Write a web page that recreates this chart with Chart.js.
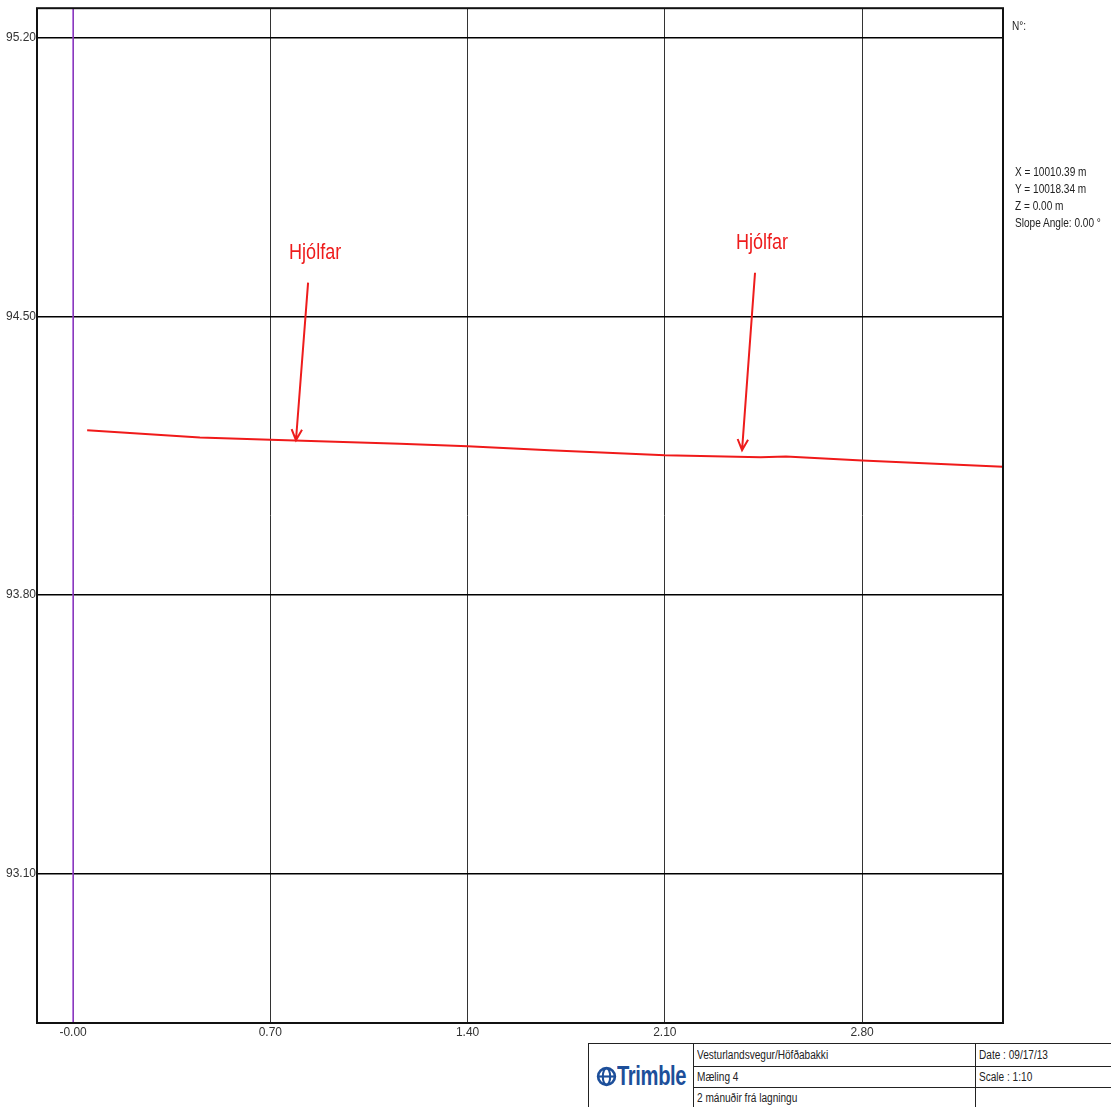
<!DOCTYPE html>
<html>
<head>
<meta charset="utf-8">
<title>Mæling 4</title>
<script src="https://cdn.jsdelivr.net/npm/chart.js@4.4.1/dist/chart.umd.min.js"></script>
<style>
body { margin: 0; background: #fff; }
#wrap { position: relative; width: 1111px; height: 1107px; overflow: hidden; }
.narrow { font-family: "Liberation Sans", Arial, sans-serif; color: #222; }
.sq { display: inline-block; transform: scaleX(0.84); transform-origin: left center; white-space: nowrap; }
#no { position: absolute; left: 1012px; top: 19px; font-size: 12px; }
#info { position: absolute; left: 1015px; top: 164px; font-size: 12px; line-height: 17px; white-space: nowrap; }
#box { position: absolute; left: 588px; top: 1043px; border-collapse: collapse; table-layout: fixed; width: 526px; font-size: 12px; background: #fff; }
#box td { border: 1px solid #222; padding: 0 3px; white-space: nowrap; overflow: hidden; }
#logo { text-align: center; font-weight: bold; font-size: 28px; color: #1d4f9a; padding: 0 !important; }
</style>
</head>
<body>
<div id="wrap">
	<canvas id="profileChart"></canvas>
	<div id="no" class="narrow"><span class="sq">N°:</span></div>
	<div id="info" class="narrow">
		<span class="sq">X = 10010.39 m</span><br>
		<span class="sq">Y = 10018.34 m</span><br>
		<span class="sq">Z = 0.00 m</span><br>
		<span class="sq">Slope Angle: 0.00 °</span>
	</div>
	<table id="box" class="narrow">
		<colgroup><col style="width:105px"><col style="width:282px"><col style="width:139px"></colgroup>
		<tr style="height:23px">
			<td id="logo" rowspan="3">
				<svg width="21" height="21" viewBox="0 0 20 20" style="vertical-align:-2px">
					<circle cx="10" cy="10" r="8" fill="none" stroke="#1d4f9a" stroke-width="2.5"/>
					<ellipse cx="10" cy="10" rx="3.5" ry="8" fill="none" stroke="#1d4f9a" stroke-width="2"/>
					<line x1="2" y1="10" x2="18" y2="10" stroke="#1d4f9a" stroke-width="2"/>
				</svg><span class="sq" style="transform:scaleX(0.72);width:70px;letter-spacing:-0.5px">Trimble</span>
			</td>
			<td><span class="sq">Vesturlandsvegur/Höfðabakki</span></td>
			<td><span class="sq">Date : 09/17/13</span></td>
		</tr>
		<tr style="height:21px">
			<td><span class="sq">Mæling 4</span></td>
			<td><span class="sq">Scale : 1:10</span></td>
		</tr>
		<tr style="height:20px">
			<td><span class="sq">2 mánuðir frá lagningu</span></td>
			<td></td>
		</tr>
	</table>
</div>
<script>
// profile (offset m, elevation m)
var offsets = [0.05, 0.45, 0.70, 1.16, 1.40, 1.69, 2.10, 2.44, 2.53, 2.80, 3.30];
var elevations = [94.214, 94.196, 94.190, 94.180, 94.174, 94.164, 94.151, 94.146, 94.148, 94.138, 94.122];

var xTicks = [0, 0.70, 1.40, 2.10, 2.80];
var yTicks = [93.10, 93.80, 94.50, 95.20];
var xMin = -0.128, xMax = 3.30;
var yMin = 92.724, yMax = 95.275;

// rut markers: label, label pos, arrow start, arrow tip
var noteText = ['Hjólfar', 'Hjólfar'];
var noteX = [0.859, 2.445];
var noteY = [94.661, 94.686];
var arrowFromX = [0.834, 2.420];
var arrowFromY = [94.585, 94.610];
var arrowToX = [0.791, 2.374];
var arrowToY = [94.189, 94.164];

var FONT = '"Liberation Sans", Arial, sans-serif';

var profile = [];
for (var i = 0; i < offsets.length; i++) {
	profile.push({ x: offsets[i], y: elevations[i] });
}

var framePlugin = {
	id: 'frame',
	afterDatasetsDraw: function (chart) {
		var ctx = chart.ctx;
		var a = chart.chartArea;
		var xs = chart.scales.x, ys = chart.scales.y;
		ctx.save();
		ctx.strokeStyle = '#111';
		ctx.lineWidth = 2;
		ctx.strokeRect(a.left, a.top, a.right - a.left, a.bottom - a.top);

		ctx.strokeStyle = '#ee1c1c';
		ctx.fillStyle = '#ee1c1c';
		ctx.lineWidth = 2;
		ctx.font = '22px ' + FONT;
		ctx.textAlign = 'center';
		ctx.textBaseline = 'middle';
		for (var i = 0; i < noteText.length; i++) {
			ctx.save();
			ctx.translate(xs.getPixelForValue(noteX[i]), ys.getPixelForValue(noteY[i]));
			ctx.scale(0.82, 1);
			ctx.fillText(noteText[i], 0, 0);
			ctx.restore();
			var x1 = xs.getPixelForValue(arrowFromX[i]), y1 = ys.getPixelForValue(arrowFromY[i]);
			var x2 = xs.getPixelForValue(arrowToX[i]), y2 = ys.getPixelForValue(arrowToY[i]);
			ctx.beginPath();
			ctx.moveTo(x1, y1);
			ctx.lineTo(x2, y2);
			var ang = Math.atan2(y2 - y1, x2 - x1);
			ctx.moveTo(x2 - 12 * Math.cos(ang - 0.45), y2 - 12 * Math.sin(ang - 0.45));
			ctx.lineTo(x2, y2);
			ctx.lineTo(x2 - 12 * Math.cos(ang + 0.45), y2 - 12 * Math.sin(ang + 0.45));
			ctx.stroke();
		}
		ctx.restore();
	}
};

var ctx = document.getElementById('profileChart');
ctx.width = 1111;
ctx.height = 1107;
var profileChart = new Chart(ctx, {
	type: 'scatter',
	data: {
		datasets: [{
			label: 'Profile',
			data: profile,
			showLine: true,
			borderColor: '#f01a1a',
			borderWidth: 2,
			pointRadius: 0,
			tension: 0
		}, {
			label: 'Centre',
			data: [{ x: 0, y: yMin }, { x: 0, y: yMax }],
			showLine: true,
			borderColor: '#9b3fd6',
			borderWidth: 1.5,
			pointRadius: 0
		}]
	},
	options: {
		responsive: false,
		animation: false,
		layout: { padding: { top: 7, right: 108, left: 0, bottom: 0 } },
		plugins: { legend: { display: false }, tooltip: { enabled: false } },
		scales: {
			x: {
				type: 'linear',
				min: xMin,
				max: xMax,
				afterBuildTicks: function (scale) {
					scale.ticks = xTicks.map(function (v) { return { value: v }; });
				},
				afterFit: function (scale) { scale.height = 84; },
				grid: { color: '#333', lineWidth: 1, drawTicks: false },
				border: { display: false },
				ticks: {
					padding: 2,
					color: '#333',
					font: { family: FONT, size: 12 },
					maxRotation: 0,
					callback: function (v) { return v === 0 ? '-0.00' : v.toFixed(2); }
				}
			},
			y: {
				type: 'linear',
				min: yMin,
				max: yMax,
				afterBuildTicks: function (scale) {
					scale.ticks = yTicks.map(function (v) { return { value: v }; });
				},
				afterFit: function (scale) { scale.width = 37; },
				grid: { color: '#000', lineWidth: 1.5, drawTicks: false },
				border: { display: false },
				ticks: {
					padding: 1,
					color: '#333',
					font: { family: FONT, size: 12 },
					callback: function (v) { return v.toFixed(2); }
				}
			}
		}
	},
	plugins: [framePlugin]
});
</script>
</body>
</html>
